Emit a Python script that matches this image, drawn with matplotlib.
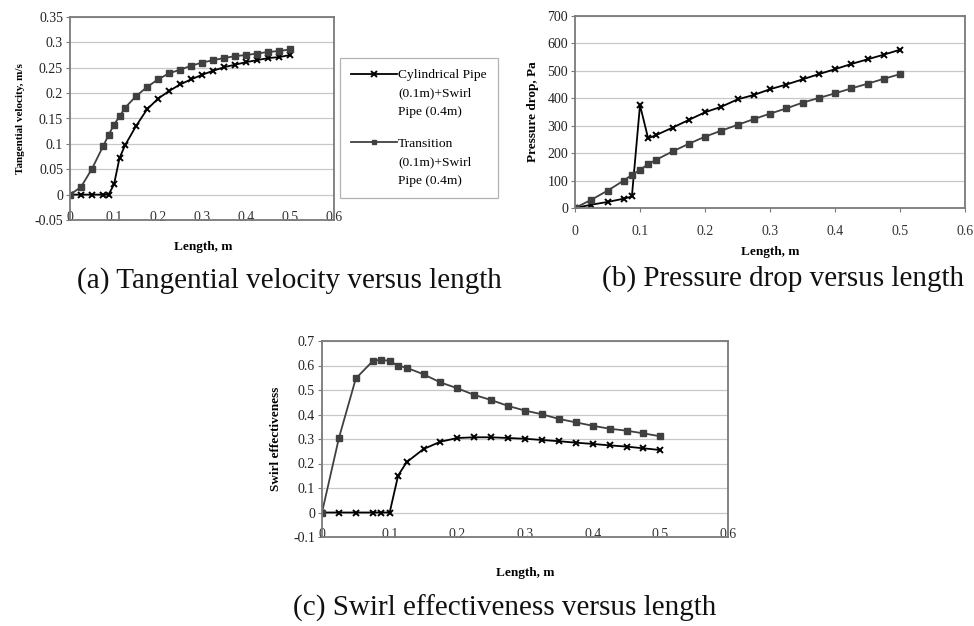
import numpy as np
import matplotlib
matplotlib.use('Agg')
from matplotlib import pyplot as plt
from matplotlib.ticker import FuncFormatter

plt.rcParams['font.family'] = ['Liberation Serif', 'DejaVu Serif']

# length positions (m)
length = [0, 0.025, 0.05, 0.075, 0.0875, 0.1, 0.1125, 0.125, 0.15, 0.175, 0.2, 0.225,
          0.25, 0.275, 0.3, 0.325, 0.35, 0.375, 0.4, 0.425, 0.45, 0.475, 0.5]

# (a) tangential velocity, m/s
vel_cyl = [0, 0, 0, 0, 0, 0.02, 0.072, 0.097, 0.135, 0.168, 0.189, 0.204,
           0.217, 0.227, 0.236, 0.244, 0.251, 0.256, 0.261, 0.265, 0.269, 0.271, 0.275]
vel_tra = [0, 0.015, 0.051, 0.095, 0.117, 0.138, 0.154, 0.171, 0.194, 0.212, 0.227, 0.239,
           0.246, 0.254, 0.26, 0.265, 0.269, 0.273, 0.275, 0.278, 0.281, 0.283, 0.286]

# (b) pressure drop, Pa
dp_cyl = [0, 12, 22, 34, 42, 375, 254, 266, 293, 321, 349, 369,
          396, 412, 433, 450, 469, 488, 506, 525, 542, 559, 577]
dp_tra = [0, 30, 63, 100, 121, 139, 160, 176, 206, 234, 260, 282,
          303, 324, 344, 363, 384, 401, 418, 436, 453, 471, 488]

# (c) swirl effectiveness
sw_cyl = [0, 0, 0, 0, 0, 0, 0.151, 0.205, 0.259, 0.289, 0.304, 0.307,
          0.307, 0.304, 0.301, 0.296, 0.291, 0.285, 0.28, 0.274, 0.269, 0.262, 0.255]
sw_tra = [0, 0.304, 0.547, 0.618, 0.624, 0.618, 0.599, 0.591, 0.564, 0.531, 0.507, 0.48,
          0.459, 0.435, 0.416, 0.401, 0.382, 0.368, 0.354, 0.342, 0.334, 0.323, 0.311]

labels = ['Cylindrical Pipe\n(0.1m)+Swirl\nPipe (0.4m)', 'Transition\n(0.1m)+Swirl\nPipe (0.4m)']
xticks = [0, 0.1, 0.2, 0.3, 0.4, 0.5, 0.6]

W, H = 974, 626
fig = plt.figure(figsize=(W / 100, H / 100), dpi=100)


def box(l, t, r, b):
    return [l / W, 1 - b / H, (r - l) / W, (b - t) / H]


fmt = FuncFormatter(lambda v, p: '%g' % round(v, 4))
frame = '#7a7a7a'


def setup(ax, ylim, yticks, ylabel, lsize, straddle):
    ax.plot(length, cyl_data[ax], color='black', lw=1.3, marker='x', ms=5, mew=1.4, label=labels[0])
    ax.plot(length, tra_data[ax], color='#404040', lw=1.3, marker='s', ms=4, label=labels[1])
    ax.set_xlim(0, 0.6)
    ax.set_ylim(*ylim)
    ax.set_xticks(xticks)
    ax.set_yticks(yticks)
    ax.xaxis.set_major_formatter(fmt)
    ax.yaxis.set_major_formatter(fmt)
    ax.grid(axis='y', color='#c8c8c8', lw=0.9)
    ax.set_axisbelow(True)
    for s in ax.spines.values():
        s.set_color(frame)
        s.set_linewidth(1.3)
    ax.tick_params(axis='y', labelsize=10, length=3, color=frame, pad=2, labelcolor='#222222')
    if straddle:
        ax.tick_params(axis='x', labelsize=10, length=0, pad=-6.5, labelcolor='#333333')
    else:
        ax.tick_params(axis='x', labelsize=10, length=3, color=frame, pad=9, labelcolor='#333333')
    ax.set_ylabel(ylabel, fontsize=lsize, fontweight='bold')


axa = fig.add_axes(box(70, 17, 334, 220))
axb = fig.add_axes(box(575, 16, 965, 208))
axc = fig.add_axes(box(322, 341, 728, 537))

cyl_data = {axa: vel_cyl, axb: dp_cyl, axc: sw_cyl}
tra_data = {axa: vel_tra, axb: dp_tra, axc: sw_tra}

setup(axa, (-0.05, 0.35), np.arange(-0.05, 0.36, 0.05), 'Tangential velocity, m/s', 8, True)
setup(axb, (0, 700), range(0, 701, 100), 'Pressure drop, Pa', 9.5, False)
setup(axc, (-0.1, 0.7), np.arange(-0.1, 0.71, 0.1), 'Swirl effectiveness', 9.5, True)

axa.yaxis.set_label_coords(-45 / 264, 0.5)
axb.yaxis.set_label_coords(-36 / 390, 0.5)
axc.yaxis.set_label_coords(-40 / 406, 0.5)

fig.text(203 / W, 1 - 247 / H, 'Length, m', fontsize=9.5, fontweight='bold', ha='center', va='center')
fig.text(770 / W, 1 - 252 / H, 'Length, m', fontsize=9.5, fontweight='bold', ha='center', va='center')
fig.text(525 / W, 1 - 573 / H, 'Length, m', fontsize=9.5, fontweight='bold', ha='center', va='center')

fig.text(289 / W, 1 - 281 / H, '(a) Tangential velocity versus length', fontsize=21, ha='center', va='center', color='#111111')
fig.text(783 / W, 1 - 279 / H, '(b) Pressure drop versus length', fontsize=21, ha='center', va='center', color='#111111')
fig.text(505 / W, 1 - 608 / H, '(c) Swirl effectiveness versus length', fontsize=21, ha='center', va='center', color='#111111')

h, l = axa.get_legend_handles_labels()
leg = fig.legend(h, l, loc='upper left', bbox_to_anchor=(340 / W, 1 - 58 / H), borderaxespad=0,
                 fontsize=9.7, handlelength=3.4, handletextpad=0.05, labelspacing=1.5, borderpad=0.85,
                 frameon=True, fancybox=False, edgecolor='#a0a0a0', markerscale=0.75)
leg.get_frame().set_linewidth(0.9)
for t in leg.get_texts():
    t.set_linespacing(1.7)
# put each key line level with the first line of its label
for lh in leg.legend_handles:
    lh.set_ydata(np.asarray(lh.get_ydata()) + 14.3)

fig.savefig('out.png', dpi=100)
